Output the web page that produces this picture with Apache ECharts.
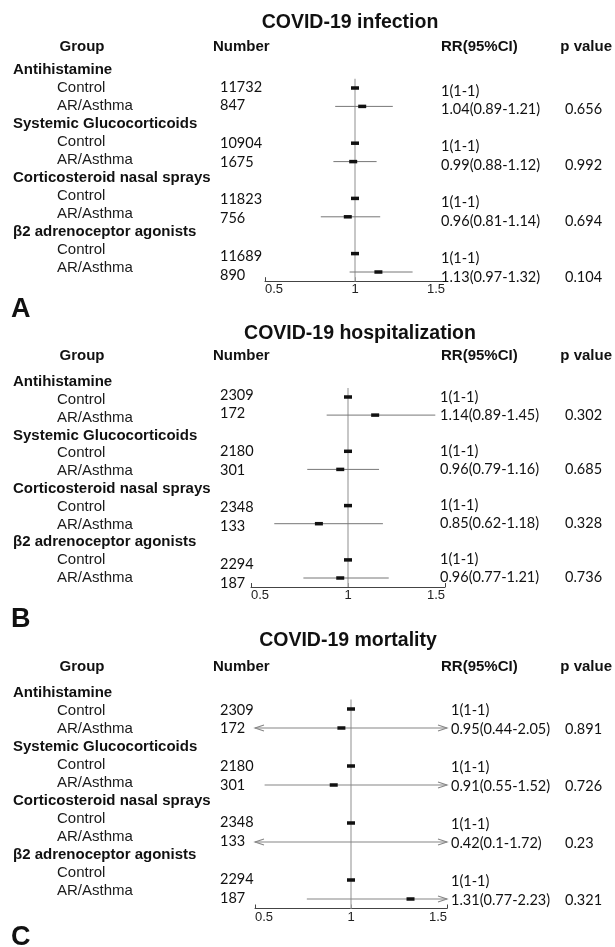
<!DOCTYPE html>
<html><head><meta charset="utf-8">
<script src="https://cdn.jsdelivr.net/npm/echarts@6/dist/echarts.min.js"></script>
<style>html,body{margin:0;padding:0;background:#fff}#c{width:615px;height:947px}</style>
</head><body><div id="c"></div>
<script>
// ---------- data ----------
const groups = ['Antihistamine', 'Systemic Glucocorticoids', 'Corticosteroid nasal sprays', 'β2 adrenoceptor agonists'];
const arms = ['Control', 'AR/Asthma'];
const panelTitles = ['COVID-19 infection', 'COVID-19 hospitalization', 'COVID-19 mortality'];
const panelLetters = ['A', 'B', 'C'];
const headers = ['Group', 'Number', 'RR(95%CI)', 'p value'];
const xTicks = [0.5, 1, 1.5];

// order per group: Control, AR/Asthma
const infectionN  = [11732, 847, 10904, 1675, 11823, 756, 11689, 890];
const infectionRR = [1, 1.04, 1, 0.99, 1, 0.96, 1, 1.13];
const infectionLo = [1, 0.89, 1, 0.88, 1, 0.81, 1, 0.97];
const infectionHi = [1, 1.21, 1, 1.12, 1, 1.14, 1, 1.32];
const infectionP  = ['0.656', '0.992', '0.694', '0.104'];

const hospitalN  = [2309, 172, 2180, 301, 2348, 133, 2294, 187];
const hospitalRR = [1, 1.14, 1, 0.96, 1, 0.85, 1, 0.96];
const hospitalLo = [1, 0.89, 1, 0.79, 1, 0.62, 1, 0.77];
const hospitalHi = [1, 1.45, 1, 1.16, 1, 1.18, 1, 1.21];
const hospitalP  = ['0.302', '0.685', '0.328', '0.736'];

const mortalityN  = [2309, 172, 2180, 301, 2348, 133, 2294, 187];
const mortalityRR = [1, 0.95, 1, 0.91, 1, 0.42, 1, 1.31];
const mortalityLo = [1, 0.44, 1, 0.55, 1, 0.1, 1, 0.77];
const mortalityHi = [1, 2.05, 1, 1.52, 1, 1.72, 1, 2.23];
const mortalityP  = ['0.891', '0.726', '0.23', '0.321'];

const panels = [
  { N: infectionN, rr: infectionRR, lo: infectionLo, hi: infectionHi, p: infectionP },
  { N: hospitalN, rr: hospitalRR, lo: hospitalLo, hi: hospitalHi, p: hospitalP },
  { N: mortalityN, rr: mortalityRR, lo: mortalityLo, hi: mortalityHi, p: mortalityP }
];

// ---------- layout ----------
const XMIN = xTicks[0], XMAX = xTicks[xTicks.length - 1];
const LAY = [
  { title: [350, 23], head: 47, letter: 310, names: [70, 18.0], nums: [68.2, 18.8], plot: [69.6, 18.4], rr: [72.4, 18.6], rrX: 441, ax: [265, 445] },
  { title: [360, 334], head: 356, letter: 620, names: [382, 17.8], nums: [376.2, 18.8], plot: [378.9, 18.1], rr: [379, 18.0], rrX: 440, ax: [251, 445] },
  { title: [348, 641], head: 667, letter: 938, names: [693, 18.0], nums: [691.2, 18.8], plot: [690, 19.0], rr: [691, 19.0], rrX: 451, ax: [255, 447] }
];
const PX = 565;
const NROWS = 12;
const rowIds = Array.from({ length: NROWS }, (_, i) => String(i));
const SANS = '"Liberation Sans", Arial, sans-serif';
const NUMF = 'Lato, "Open Sans", sans-serif';
const INK = '#111';

function rowOf(k) { return Math.floor(k / 2) * 3 + 1 + (k % 2); }

const grids = [], xAxes = [], yAxes = [], series = [], graphics = [];

function gridFor(left, width, r) {
  grids.push({ left, width, top: r[0] - r[1] / 2, height: r[1] * NROWS, containLabel: false, outerBoundsMode: 'none', show: false });
  return grids.length - 1;
}
function hiddenX(gi) {
  xAxes.push({ gridIndex: gi, type: 'value', show: false, min: 0, max: 1 });
}
function textY(gi, arr, opts) {
  yAxes.push(Object.assign({
    gridIndex: gi, type: 'category', data: rowIds, inverse: true, position: 'right',
    axisLine: { show: false }, axisTick: { show: false }, splitLine: { show: false },
    axisLabel: { interval: 0, margin: 0, formatter: (v, i) => arr[i], fontFamily: NUMF, fontSize: 14.5, color: INK }
  }, opts || {}));
}

panels.forEach((P, pi) => {
  const L = LAY[pi];
  const nameRows = [], numRows = [], rrRows = [], pRows = [];
  groups.forEach((g, gi) => {
    nameRows.push('{h|' + g + '}'); numRows.push(''); rrRows.push(''); pRows.push('');
    arms.forEach((a, ai) => {
      const k = gi * 2 + ai;
      nameRows.push('{s|' + a + '}');
      numRows.push(String(P.N[k]));
      rrRows.push(P.rr[k] + '(' + P.lo[k] + '-' + P.hi[k] + ')');
      pRows.push(ai === 1 ? P.p[gi] : '');
    });
  });

  // names column
  let gi = gridFor(0, 13, L.names);
  hiddenX(gi);
  textY(gi, nameRows, {
    axisLabel: {
      interval: 0, margin: 0, formatter: (v, i) => nameRows[i],
      rich: {
        h: { fontFamily: SANS, fontSize: 15, fontWeight: 'bold', color: INK },
        s: { fontFamily: SANS, fontSize: 15, color: '#1a1a1a', padding: [0, 0, 0, 44] }
      }
    }
  });

  // numbers column
  gi = gridFor(0, 220, L.nums);
  hiddenX(gi);
  textY(gi, numRows);

  // RR and p columns
  gi = gridFor(0, L.rrX, L.rr);
  hiddenX(gi);
  textY(gi, rrRows);
  textY(gi, pRows, { offset: PX - L.rrX });

  // forest plot
  gi = gridFor(L.ax[0], L.ax[1] - L.ax[0], L.plot);
  const xi = xAxes.length;
  xAxes.push({
    gridIndex: gi, type: 'value', min: XMIN, max: XMAX, interval: xTicks[1] - xTicks[0],
    axisLine: { show: true, lineStyle: { color: '#444', width: 1 } },
    axisTick: { show: true, inside: true, length: 4, lineStyle: { color: '#444' } },
    splitLine: { show: false },
    axisLabel: { margin: 2, fontFamily: SANS, fontSize: 13, color: '#222', alignMinLabel: 'left', alignMaxLabel: 'right' }
  });
  const yi = yAxes.length;
  yAxes.push({ gridIndex: gi, type: 'category', data: rowIds, inverse: true, show: false });

  // reference line at RR = 1
  series.push({
    type: 'custom', xAxisIndex: xi, yAxisIndex: yi, silent: true, clip: false,
    encode: { x: 0, y: 1 },
    data: [[1, 0]],
    renderItem: (params, api) => {
      const rowH = api.size([0, 1])[1];
      const c = api.coord([api.value(0), api.value(1)]);
      const cs = params.coordSys;
      return { type: 'line', shape: { x1: c[0], y1: c[1] + rowH / 2, x2: c[0], y2: cs.y + cs.height },
        style: { stroke: '#b5b5b5', lineWidth: 1.5 } };
    }
  });

  // estimates and confidence intervals
  const ciData = P.rr.map((v, k) => [rowOf(k), v, P.lo[k], P.hi[k]]);
  series.push({
    type: 'custom', xAxisIndex: xi, yAxisIndex: yi, silent: true, clip: false,
    encode: { y: 0, x: [1, 2, 3] },
    data: ciData,
    renderItem: (params, api) => {
      const row = api.value(0), rr = api.value(1), lo = api.value(2), hi = api.value(3);
      const y = api.coord([XMIN, row])[1];
      const a = Math.max(lo, XMIN), b = Math.min(hi, XMAX);
      const xa = api.coord([a, row])[0], xb = api.coord([b, row])[0];
      const ch = [];
      if (xb > xa) ch.push({ type: 'line', shape: { x1: xa, y1: y, x2: xb, y2: y }, style: { stroke: (lo < XMIN || hi > XMAX) ? '#858585' : '#777', lineWidth: 1 } });
      if (lo < XMIN) ch.push({ type: 'polyline', shape: { points: [[xa + 9, y - 3], [xa, y], [xa + 9, y + 3]] }, style: { stroke: '#858585', lineWidth: 1.1, fill: null } });
      if (hi > XMAX) ch.push({ type: 'polyline', shape: { points: [[xb - 9, y - 3], [xb, y], [xb - 9, y + 3]] }, style: { stroke: '#858585', lineWidth: 1.1, fill: null } });
      if (rr >= XMIN && rr <= XMAX) {
        const xr = api.coord([rr, row])[0];
        ch.push({ type: 'rect', shape: { x: xr - 4, y: y - 1.75, width: 8, height: 3.5 }, style: { fill: INK } });
      }
      return { type: 'group', children: ch };
    }
  });

  // titles, headers, panel letter
  graphics.push({ type: 'text', x: L.title[0], y: L.title[1], silent: true,
    style: { text: panelTitles[pi], fontFamily: SANS, fontSize: 19.5, fontWeight: 'bold', fill: INK, align: 'center', verticalAlign: 'middle' } });
  const hx = [[82, 'center'], [213, 'left'], [441, 'left'], [612, 'right']];
  headers.forEach((h, hi) => {
    graphics.push({ type: 'text', x: hx[hi][0], y: L.head, silent: true,
      style: { text: h, fontFamily: SANS, fontSize: 15, fontWeight: 'bold', fill: INK, align: hx[hi][1], verticalAlign: 'middle' } });
  });
  graphics.push({ type: 'text', x: 11, y: L.letter, silent: true,
    style: { text: panelLetters[pi], fontFamily: SANS, fontSize: 27, fontWeight: 'bold', fill: INK, align: 'left', verticalAlign: 'middle' } });
});

const chart = echarts.init(document.getElementById('c'), null, { renderer: 'canvas' });
chart.setOption({
  animation: false,
  backgroundColor: '#fff',
  grid: grids, xAxis: xAxes, yAxis: yAxes, series: series,
  graphic: { elements: graphics }
});
</script>
</body></html>
